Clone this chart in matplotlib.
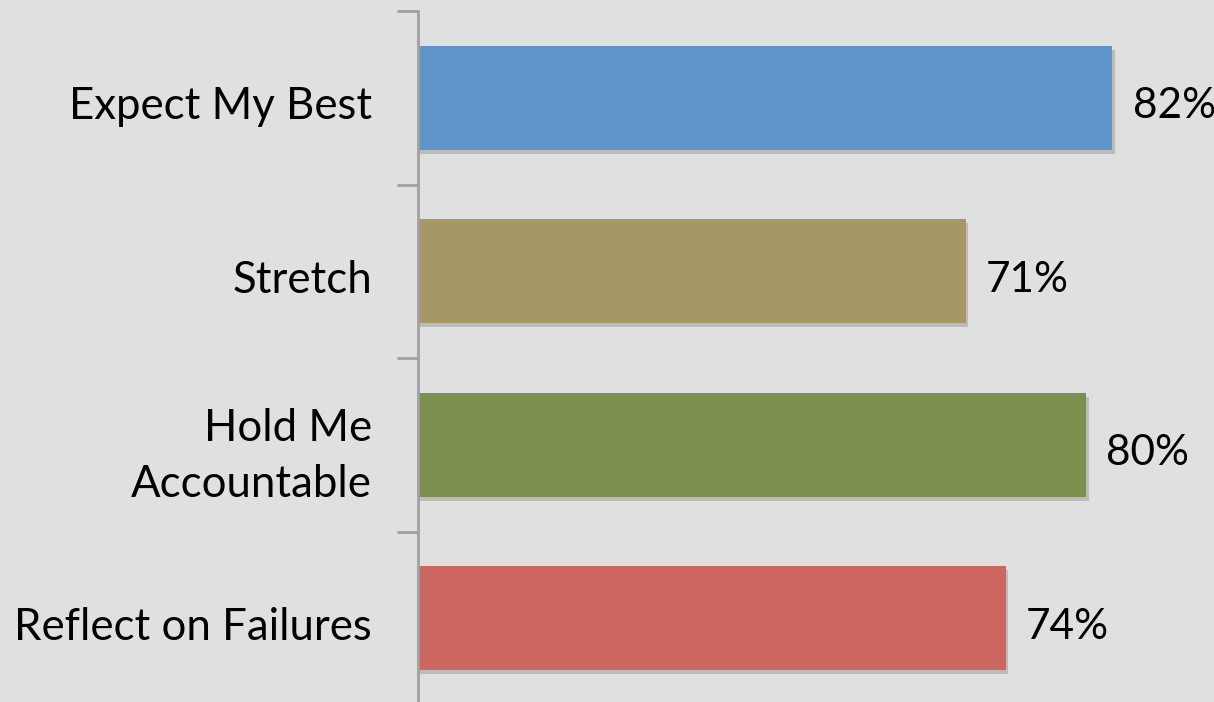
import numpy as np
import matplotlib.pyplot as plt
import matplotlib.patheffects as pe
import matplotlib.transforms as mtrans

categories = ['Expect My Best', 'Stretch', 'Hold Me\nAccountable', 'Reflect on Failures']
values = [82, 71, 80, 74]
labels = ['82%', '71%', '80%', '74%']
colors = ['#5E94C8', '#A59766', '#7C8F4E', '#CC6660']

plt.rcParams['font.family'] = ['Lato', 'DejaVu Sans']

fig = plt.figure(figsize=(12.14, 7.02), dpi=100, facecolor='#E0E0E0')
# axes spans from the vertical axis line to the right edge
ax = fig.add_axes([418/1214, -3/702, 1 - 418/1214, 694/702])
ax.set_facecolor('#E0E0E0')

y = np.arange(len(categories))
bars = ax.barh(y, values, height=0.6, color=colors, left=0)
for b in bars:
    b.set_path_effects([pe.SimplePatchShadow(offset=(2, -3), shadow_rgbFace='#777777', alpha=0.35),
                        pe.Normal()])

ax.set_xlim(30, 89.6)
ax.set_ylim(len(categories) - 0.5, -0.5)

# nudge text a few pixels down
down = mtrans.ScaledTranslation(0, -5/100, fig.dpi_scale_trans)

for yi, v, lab in zip(y, values, labels):
    ax.text(v + 1.5, yi, lab, va='center_baseline', ha='left', fontsize=30.5,
            color='black', transform=ax.transData + down)

ax.set_yticks(y)
ax.set_yticklabels(categories, fontsize=31.5, linespacing=1.47, va='center_baseline')
ax.set_yticks(np.arange(-0.5, len(categories)), minor=True)
ax.tick_params(axis='y', which='major', length=0, pad=33)
ax.tick_params(axis='y', which='minor', length=15, width=2, color='#A0A0A0')
ax.set_xticks([])
for t in ax.yaxis.get_major_ticks():
    if '\n' not in t.label1.get_text():
        t.label1.set_transform(t.label1.get_transform() + down)

for s in ['top', 'right', 'bottom']:
    ax.spines[s].set_visible(False)
ax.spines['left'].set_color('#A0A0A0')
ax.spines['left'].set_linewidth(2)

fig.savefig('out.png', dpi=100, facecolor=fig.get_facecolor())
